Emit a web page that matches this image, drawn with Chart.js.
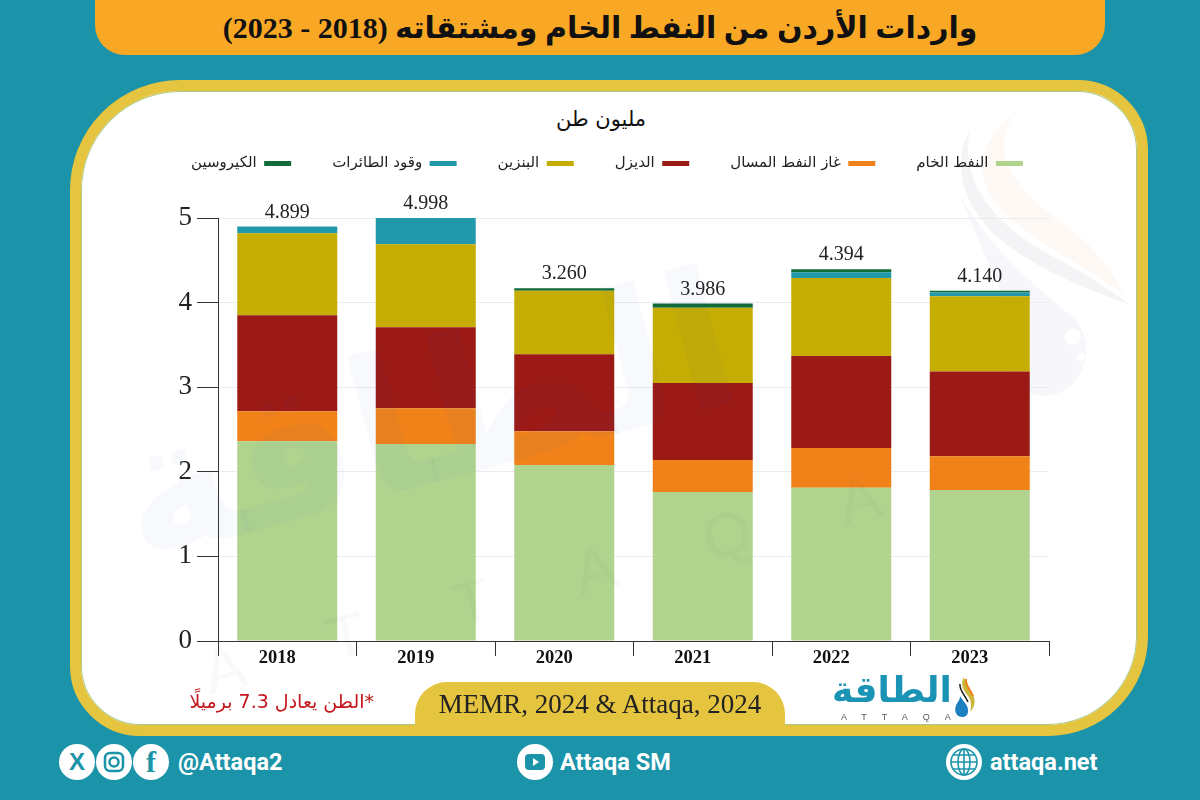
<!DOCTYPE html>
<html lang="ar">
<head>
<meta charset="utf-8">
<title>واردات الأردن</title>
<script src="https://cdn.jsdelivr.net/npm/chart.js@4/dist/chart.umd.min.js"></script>
<style>
  html, body { margin: 0; padding: 0; }
  body { width: 1200px; height: 800px; position: relative; overflow: hidden; background: #1b93a9; font-family: "Liberation Sans", "DejaVu Sans", sans-serif; }
  .abs { position: absolute; white-space: nowrap; }
  #title-bar { left: 95px; top: -20px; width: 1010px; height: 75px; background: #f9a825; border-radius: 0 0 30px 30px; }
  #title { left: 95px; width: 1010px; top: 10px; text-align: center; font: bold 30px "Liberation Serif", "DejaVu Sans", sans-serif; color: #111; direction: rtl; }
  #panel { left: 70px; top: 80px; width: 1078px; height: 656px; box-sizing: border-box; background: #fff; border: 11px solid #e5c43f; border-radius: 110px 70px 100px 70px; box-shadow: inset 0 0 0 1px #a8c98a; }
  #fan { left: 940px; top: 100px; }
  #mark-ar { left: 92px; top: 392px; font: bold 190px "DejaVu Sans", sans-serif; color: rgba(40,100,170,.04); transform: rotate(-15deg); transform-origin: left top; pointer-events: none; }
  #mark-en { left: 195px; top: 640px; font: 62px "Liberation Sans", sans-serif; color: rgba(60,60,80,.03); letter-spacing: 92px; transform: rotate(-15deg); transform-origin: left top; pointer-events: none; }
  #chart-box { left: 150px; top: 115px; width: 914px; height: 555px; }
  #unit { left: 400px; width: 402px; top: 107px; text-align: center; font: 21px "DejaVu Sans", sans-serif; color: #111; direction: rtl; }
  #note { left: 150px; width: 224px; top: 690px; text-align: right; font: 19px "DejaVu Sans", sans-serif; color: #c4161c; direction: rtl; }
  #source { left: 415px; top: 682px; width: 370px; height: 43px; background: #e5c43f; border-radius: 32px 32px 0 0; text-align: center; font: 27px/44px "Liberation Serif", serif; color: #222; }
  #logo-ar { left: 831px; top: 669px; width: 122px; text-align: center; font: bold 36px "DejaVu Sans", sans-serif; color: #1b93b5; direction: rtl; }
  #logo-en { left: 841px; top: 712px; font: 9px "Liberation Sans", sans-serif; color: #555; letter-spacing: 15px; }
  .circle { width: 36px; height: 36px; border-radius: 50%; background: #fff; color: #1b93a9; text-align: center; top: 744px; font: bold 24px/36px "Liberation Sans", sans-serif; }
  .foot { top: 748px; font: bold 23.5px "Roboto", sans-serif; color: #fff; }
</style>
</head>
<body>
<div class="abs" id="title-bar"></div>
<div class="abs" id="title">واردات الأردن من النفط الخام ومشتقاته (2018 - 2023)</div>
<div class="abs" id="panel"></div>
<svg class="abs" id="fan" width="200" height="320" viewBox="0 0 200 320">
  <path d="M76 12 C48 50 70 85 125 125 C150 143 170 165 185 195 C150 170 110 150 85 130 C35 95 25 50 76 12Z" fill="#fef9f4"/>
  <path d="M30 30 C18 90 65 130 110 155 C140 170 170 190 190 205 C150 190 95 170 55 135 C20 100 12 60 30 30Z" fill="#f4f4f7"/>
  <path d="M20 95 C50 150 100 190 130 215 C160 240 145 290 110 295 C80 300 60 270 70 235 C75 210 40 150 20 95Z" fill="#f6f6fb"/>
  <circle cx="133" cy="237" r="8" fill="#fff"/>
  <circle cx="141" cy="257" r="4" fill="#fff"/>
</svg>
<div class="abs" id="unit">مليون طن</div>
<div class="abs" id="chart-box"><canvas id="importsChart" width="914" height="555"></canvas></div>
<div class="abs" id="mark-ar">الطاقة</div>
<div class="abs" id="mark-en">ATTAQA</div>
<div class="abs" id="note">*الطن يعادل 7.3 برميلًا</div>
<div class="abs" id="source">MEMR, 2024 &amp; Attaqa, 2024</div>
<div class="abs" id="logo-ar">الطاقة</div>
<div class="abs" id="logo-en">ATTAQA</div>
<svg class="abs" style="left:951px;top:676px" width="26" height="44" viewBox="0 0 26 44">
  <path d="M7 26 C2 32 4 41 11 41 C18 41 19 33 14 27 C12 24 10 22 9 20 C9 23 8 24 7 26Z" fill="#1b7fc0"/>
  <path d="M13 1 C9 8 12 14 17 20 C20 24 21 30 19 36 C25 30 25 22 20 15 C17 11 14 7 13 1Z" fill="#c9b63a"/>
  <path d="M9 8 C8 14 14 19 17 26" fill="none" stroke="#222" stroke-width="1.6"/>
  <path d="M15 3 C14 9 19 13 22 20" fill="none" stroke="#f08219" stroke-width="2"/>
</svg>

<div class="abs circle" style="left:59px">X</div>
<div class="abs circle" style="left:96px">
  <svg width="36" height="36" viewBox="0 0 36 36" style="display:block"><rect x="9" y="9" width="18" height="18" rx="5" fill="none" stroke="#1b93a9" stroke-width="2.5"/><circle cx="18" cy="18" r="4.5" fill="none" stroke="#1b93a9" stroke-width="2.5"/></svg>
</div>
<div class="abs circle" style="left:133px;font-family:'Liberation Serif',serif;font-size:30px">f</div>
<div class="abs foot" style="left:178px">@Attaqa2</div>
<div class="abs circle" style="left:517px">
  <svg width="36" height="36" viewBox="0 0 36 36" style="display:block"><rect x="8" y="10" width="20" height="16" rx="4" fill="#1b93a9"/><path d="M16 14 L22 18 L16 22Z" fill="#fff"/></svg>
</div>
<div class="abs foot" style="left:560px">Attaqa SM</div>
<div class="abs circle" style="left:946px">
  <svg width="36" height="36" viewBox="0 0 36 36" style="display:block" fill="none" stroke="#1b93a9" stroke-width="1.6"><circle cx="18" cy="18" r="13"/><ellipse cx="18" cy="18" rx="6" ry="13"/><path d="M5 18 H31 M7 11 H29 M7 25 H29 M18 5 V31"/></svg>
</div>
<div class="abs foot" style="left:990px">attaqa.net</div>

<script>
const years = ["2018", "2019", "2020", "2021", "2022", "2023"];
const totalLabels = ["4.899", "4.998", "3.260", "3.986", "4.394", "4.140"];

const crude = [2.36, 2.33, 2.08, 1.76, 1.81, 1.785];
const lpg = [0.355, 0.42, 0.40, 0.38, 0.47, 0.40];
const diesel = [1.135, 0.96, 0.91, 0.91, 1.09, 1.00];
const gasoline = [0.97, 0.98, 0.75, 0.89, 0.92, 0.89];
const jet = [0.08, 0.31, 0.00, 0.00, 0.07, 0.045];
const kerosene = [0.00, 0.00, 0.03, 0.05, 0.035, 0.02];

const seriesNames = ["النفط الخام", "غاز النفط المسال", "الديزل", "البنزين", "وقود الطائرات", "الكيروسين"];
const seriesColors = ["#b0d48e", "#f08219", "#9c1a15", "#c5ad04", "#2299ab", "#0f6b3a"];
const seriesValues = [crude, lpg, diesel, gasoline, jet, kerosene];

// totals printed above each stack
const totalsPlugin = {
  id: "totals",
  afterDatasetsDraw(chart) {
    const ctx = chart.ctx;
    const last = chart.getDatasetMeta(chart.data.datasets.length - 1);
    ctx.save();
    ctx.font = '20px "Liberation Serif", serif';
    ctx.fillStyle = "#222";
    ctx.textAlign = "center";
    ctx.textBaseline = "bottom";
    last.data.forEach((bar, i) => ctx.fillText(totalLabels[i], bar.x, bar.y - 4));
    ctx.restore();
  }
};

// keep the legend on one row (wider than the plot) and leave room under it
const legendGap = {
  id: "legendGap",
  beforeInit(chart) {
    const legend = chart.legend;
    const fit = legend.fit;
    const draw = legend.draw;
    legend.fit = function () {
      this.maxWidth = Math.max(this.maxWidth, 1000);
      fit.call(this);
      this.height += 37;
    };
    legend.draw = function () {
      this.left -= 30; this.right += 30; this.width += 60;
      draw.call(this);
      this.left += 30; this.right -= 30; this.width -= 60;
    };
  }
};

new Chart(document.getElementById("importsChart"), {
  type: "bar",
  data: {
    labels: years,
    datasets: seriesNames.map((name, i) => ({
      label: name,
      data: seriesValues[i],
      backgroundColor: seriesColors[i],
      barPercentage: 0.722,
      categoryPercentage: 1
    }))
  },
  options: {
    responsive: false,
    animation: false,
    layout: { padding: { left: 15, right: 15, bottom: 0 } },
    plugins: {
      tooltip: { enabled: false },
      legend: {
        position: "top",
        rtl: true,
        textDirection: "rtl",
        labels: {
          boxWidth: 27,
          boxHeight: 5,
          padding: 41,
          color: "#222",
          font: { family: '"DejaVu Sans", sans-serif', size: 15 }
        }
      }
    },
    scales: {
      x: {
        stacked: true,
        afterFit(scale) { scale.height = 29; },
        border: { color: "#333" },
        grid: { drawOnChartArea: false, tickLength: 15, tickColor: "#333" },
        ticks: {
          color: "#111",
          labelOffset: -10,
          padding: -9,
          maxRotation: 0,
          font: { family: '"Liberation Serif", serif', size: 18.5, weight: "bold" }
        }
      },
      y: {
        stacked: true,
        min: 0,
        max: 5,
        afterFit(scale) { scale.width = 53; },
        border: { color: "#333" },
        grid: { color: "#ececec", tickColor: "#333", tickLength: 21 },
        ticks: {
          stepSize: 1,
          color: "#222",
          padding: 5,
          font: { family: '"Liberation Serif", serif', size: 27 }
        }
      }
    }
  },
  plugins: [totalsPlugin, legendGap]
});
</script>
</body>
</html>
